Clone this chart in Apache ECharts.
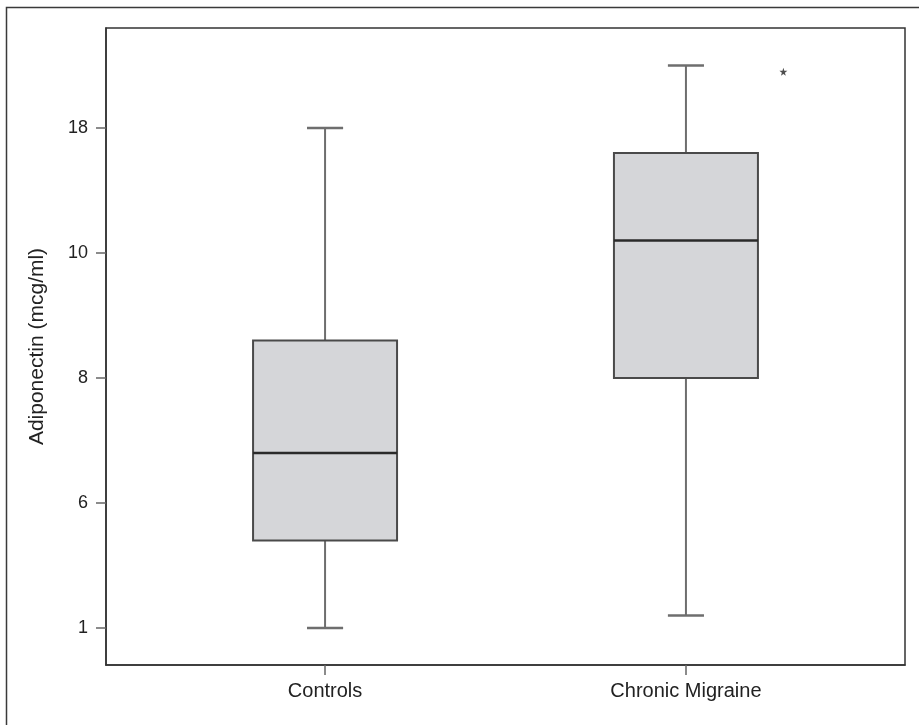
<!DOCTYPE html>
<html><head><meta charset="utf-8">
<script src="https://cdn.jsdelivr.net/npm/echarts@6/dist/echarts.min.js"></script>
<style>html,body{margin:0;padding:0;background:#fff}#c{width:919px;height:725px}</style>
</head><body><div id="c"></div>
<script>
const categories = ['Controls', 'Chronic Migraine'];
const tickLabels = [1, 6, 8, 10, 18];
const mins = [1, 1.5];
const q1s = [4.5, 8];
const medians = [6.8, 10.8];
const q3s = [8.6, 16.4];
const maxs = [18, 22];
const outlierGroup = ['Chronic Migraine'];
const outlierValues = [21.6];

// piecewise-linear scale through the (unevenly spaced) tick labels
function toPos(v) {
  const t = tickLabels, n = t.length;
  if (v <= t[0]) return (v - t[0]) / (t[1] - t[0]);
  for (let i = 0; i < n - 1; i++) {
    if (v <= t[i + 1]) return i + (v - t[i]) / (t[i + 1] - t[i]);
  }
  return (n - 1) + (v - t[n - 1]) / (t[n - 1] - t[n - 2]);
}

const boxData = categories.map((c, i) => [i + 1, toPos(mins[i]), toPos(q1s[i]), toPos(medians[i]), toPos(q3s[i]), toPos(maxs[i])]);
const outlierData = outlierGroup.map((g, i) => [categories.indexOf(g) + 1 + 0.27, toPos(outlierValues[i])]);

const chart = echarts.init(document.getElementById('c'));
const font = 'Liberation Sans, Arial, sans-serif';
chart.setOption({
  animation: false,
  backgroundColor: '#fff',
  graphic: [{
    type: 'rect', shape: { x: 6.5, y: 7.5, width: 1000, height: 1000 },
    style: { fill: 'none', stroke: '#3a3a3a', lineWidth: 1.5 }, silent: true
  }],
  grid: { left: 106, right: 14, top: 28, bottom: 60, show: true, borderColor: '#333', borderWidth: 1.5, backgroundColor: 'transparent' },
  xAxis: {
    type: 'value', min: 0.393, max: 2.607,
    axisLine: { show: true, onZero: false, lineStyle: { color: '#333', width: 1.5 } },
    axisTick: { show: true, length: 10, customValues: [1, 2], lineStyle: { color: '#666', width: 1.5 } },
    axisLabel: { customValues: [1, 2], formatter: v => categories[Math.round(v) - 1] || '', color: '#222', fontFamily: font, fontSize: 20, margin: 16 },
    splitLine: { show: false }
  },
  yAxis: {
    type: 'value', min: -0.296, max: 4.8,
    name: 'Adiponectin (mcg/ml)', nameLocation: 'middle', nameGap: 58, nameRotate: 90,
    nameTextStyle: { color: '#222', fontFamily: font, fontSize: 21 },
    axisLine: { show: true, onZero: false, lineStyle: { color: '#333', width: 1.5 } },
    axisTick: { show: true, length: 10, customValues: [0, 1, 2, 3, 4], lineStyle: { color: '#666', width: 1.5 } },
    axisLabel: { customValues: [0, 1, 2, 3, 4], formatter: v => String(tickLabels[Math.round(v)]), color: '#222', fontFamily: font, fontSize: 18, margin: 18 },
    splitLine: { show: false }
  },
  series: [{
    type: 'custom',
    data: boxData,
    renderItem: function (params, api) {
      const x = api.value(0);
      const half = 0.1995, capHalf = 0.05;
      const pMin = api.coord([x, api.value(1)]);
      const pQ1 = api.coord([x, api.value(2)]);
      const pMed = api.coord([x, api.value(3)]);
      const pQ3 = api.coord([x, api.value(4)]);
      const pMax = api.coord([x, api.value(5)]);
      const xl = api.coord([x - half, 0])[0], xr = api.coord([x + half, 0])[0];
      const cl = api.coord([x - capHalf, 0])[0], cr = api.coord([x + capHalf, 0])[0];
      const wl = { stroke: '#6e6e6e', lineWidth: 2 };
      return {
        type: 'group', children: [
          { type: 'line', shape: { x1: pMax[0], y1: pMax[1], x2: pQ3[0], y2: pQ3[1] }, style: wl },
          { type: 'line', shape: { x1: pMin[0], y1: pMin[1], x2: pQ1[0], y2: pQ1[1] }, style: wl },
          { type: 'line', shape: { x1: cl, y1: pMax[1], x2: cr, y2: pMax[1] }, style: { stroke: '#6e6e6e', lineWidth: 2.5 } },
          { type: 'line', shape: { x1: cl, y1: pMin[1], x2: cr, y2: pMin[1] }, style: { stroke: '#6e6e6e', lineWidth: 2.5 } },
          { type: 'rect', shape: { x: xl, y: pQ3[1], width: xr - xl, height: pQ1[1] - pQ3[1] }, style: { fill: '#d5d6d9', stroke: '#4a4a4a', lineWidth: 2 } },
          { type: 'line', shape: { x1: xl, y1: pMed[1], x2: xr, y2: pMed[1] }, style: { stroke: '#2a2a2a', lineWidth: 2.5 } }
        ]
      };
    }
  }, {
    type: 'scatter',
    data: outlierData,
    symbol: 'path://M50,0 L61,35 L98,35 L68,57 L79,91 L50,70 L21,91 L32,57 L2,35 L39,35 Z',
    symbolSize: 8,
    itemStyle: { color: '#222' }
  }]
});
</script></body></html>
